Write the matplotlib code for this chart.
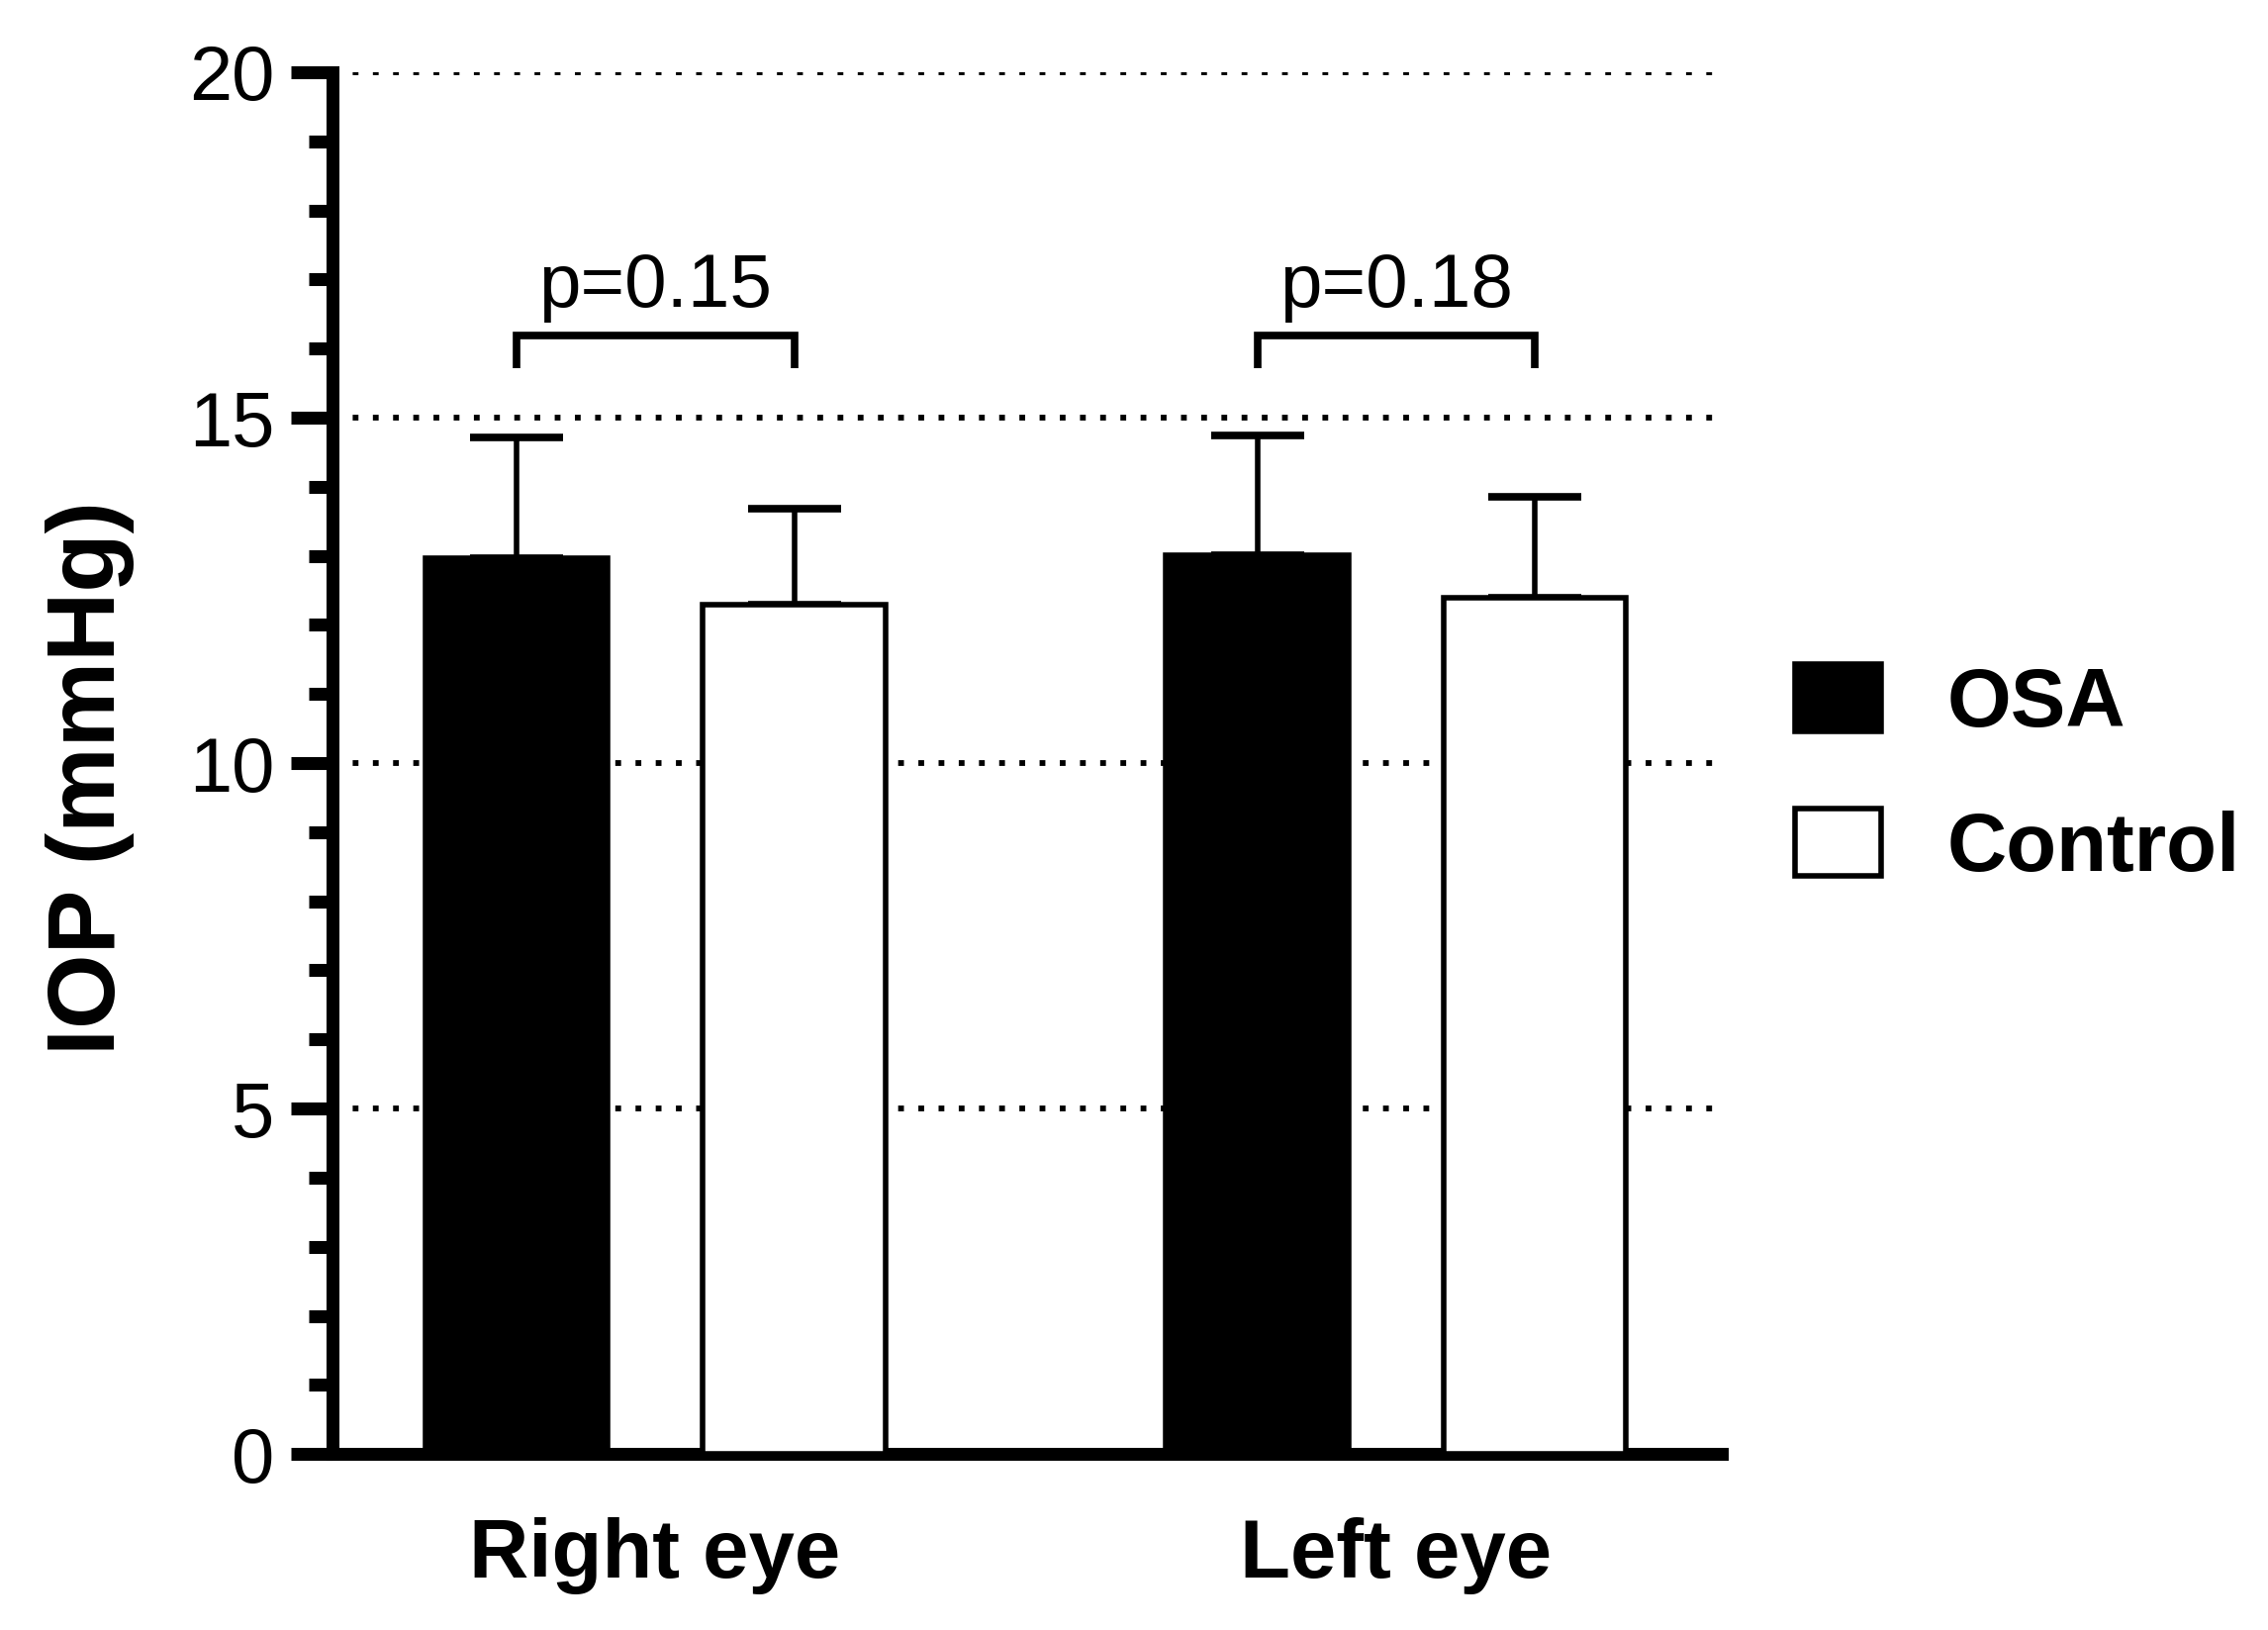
import matplotlib
matplotlib.use("Agg")
import matplotlib.pyplot as plt
import numpy as np
from matplotlib.patches import Patch

plt.rcParams['font.family'] = ['Liberation Sans', 'DejaVu Sans']

categories = ["Right eye", "Left eye"]
osa_mean = [12.96, 13.01]
osa_sd = [1.76, 1.73]
ctrl_mean = [12.29, 12.40]
ctrl_sd = [1.39, 1.46]
p_labels = ["p=0.15", "p=0.18"]
y_ticks = [0, 5, 10, 15, 20]

fig = plt.figure(figsize=(22.92, 16.47), dpi=100)
ax = fig.add_axes([0.1466, 0.108, 0.759 - 0.1466, 0.9557 - 0.108])

x = np.arange(len(categories))
off = 0.1875
w = 0.246
lw_spine = 9.4

ax.bar(x - off, osa_mean, width=w, color='black', edgecolor='black', linewidth=4, zorder=3)
ax.bar(x + off, ctrl_mean, width=w, color='white', edgecolor='black', linewidth=4, zorder=3)
ax.errorbar(x - off, osa_mean, yerr=[np.zeros(2), osa_sd], fmt='none', ecolor='black',
            elinewidth=4, capsize=34, capthick=5.5, zorder=2)
ax.errorbar(x + off, ctrl_mean, yerr=[np.zeros(2), ctrl_sd], fmt='none', ecolor='black',
            elinewidth=4, capsize=34, capthick=5.5, zorder=2)

# significance brackets
for i, lab in enumerate(p_labels):
    x0, x1 = x[i] - off, x[i] + off
    ax.plot([x0, x0, x1, x1], [15.71, 16.19, 16.19, 15.71], color='black', lw=5.5,
            solid_joinstyle='miter', solid_capstyle='butt', zorder=4, clip_on=False)
    ax.text(x[i], 16.6, lab, ha='center', va='baseline', fontsize=55)

ax.set_xlim(-0.4355, 1.439)
ax.set_ylim(0, 20)
ax.set_yticks(y_ticks)
ax.set_yticks(np.arange(0, 21, 1), minor=True)
ax.set_xticks(x)
ax.set_xticklabels(categories, fontsize=60, fontweight='bold')
ax.tick_params(axis='x', length=0, pad=46)
ax.tick_params(axis='y', which='major', length=30, width=lw_spine, labelsize=56, pad=12)
ax.tick_params(axis='y', which='minor', length=17.5, width=lw_spine)

for s in ['top', 'right']:
    ax.spines[s].set_visible(False)
for s in ['left', 'bottom']:
    ax.spines[s].set_linewidth(lw_spine)
    ax.spines[s].set_capstyle('projecting')

ax.grid(axis='y', which='major', linestyle=(0, (1, 2.5)), linewidth=4.2, color='black', zorder=0)
ax.set_axisbelow(True)

fig.text(0.0395, 0.523, "IOP (mmHg)", rotation=90, ha='center', va='center',
         fontsize=70, fontweight='bold')

handles = [Patch(facecolor='black', edgecolor='black', linewidth=4),
           Patch(facecolor='white', edgecolor='black', linewidth=4)]
leg = fig.legend(handles, ["OSA", "Control"], loc='center left',
                 bbox_to_anchor=(0.7915, 0.524), frameon=False, fontsize=60,
                 handlelength=1.04, handleheight=0.88, handletextpad=0.8,
                 labelspacing=0.8, borderpad=0, borderaxespad=0)
for t in leg.get_texts():
    t.set_fontweight('bold')

fig.savefig("out.png", dpi=100)
